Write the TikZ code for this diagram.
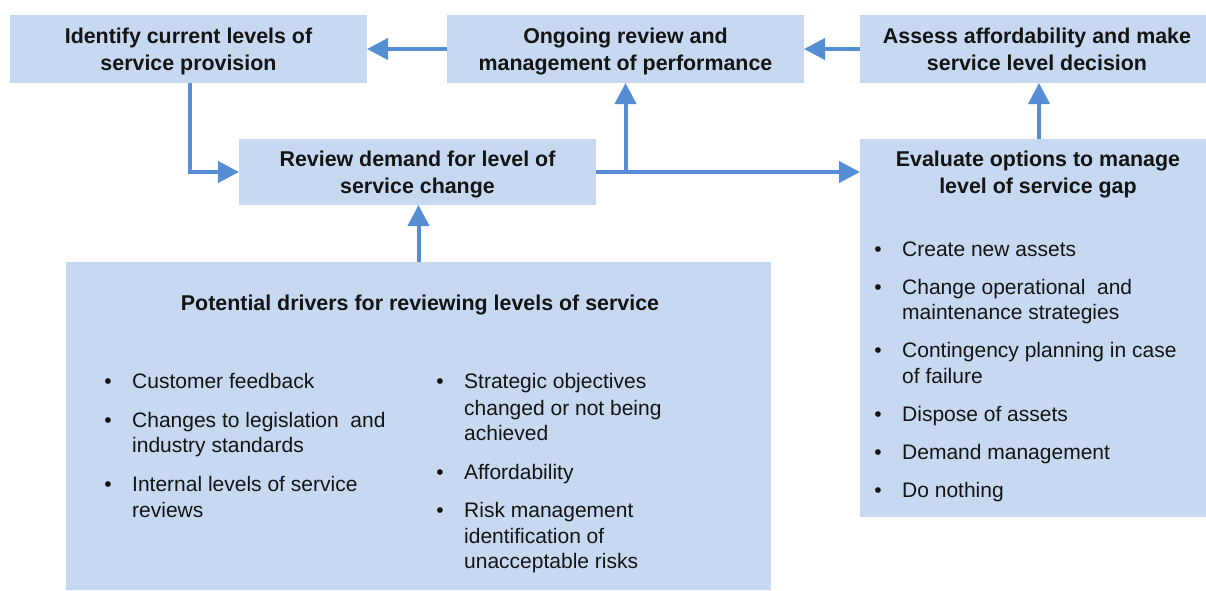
\documentclass[tikz,border=0pt]{standalone}
\usepackage{fontspec}
\setmainfont{Liberation Sans}
\usetikzlibrary{arrows.meta}
\definecolor{boxblue}{RGB}{198,217,240}
\definecolor{arrblue}{RGB}{85,142,213}
\definecolor{txt}{RGB}{20,20,20}
\begin{document}
\begin{tikzpicture}[x=1pt,y=-1pt,
  box/.style={rectangle, fill=boxblue, draw=none, inner sep=0pt, outer sep=0pt},
  ttlline/.style={font=\fontsize{21.4}{27}\selectfont\bfseries, anchor=base, inner sep=0pt, text=txt},
  itm/.style={font=\fontsize{21}{25.5}\selectfont, anchor=base west, inner sep=0pt, text=txt},
  bul/.style={font=\fontsize{21}{25.5}\selectfont, anchor=base, inner sep=0pt, text=txt},
  arr/.style={draw=arrblue, line width=4pt, -{Triangle[length=21pt,width=21pt]}}
]
\useasboundingbox (0,0) rectangle (1206,590);

% boxes
\node[box, minimum width=357pt, minimum height=68pt] (A) at (188.5,49) {};
\node[box, minimum width=357pt, minimum height=68pt] (B) at (625.5,49) {};
\node[box, minimum width=346pt, minimum height=68pt] (C) at (1033,49) {};
\node[box, minimum width=357pt, minimum height=66pt] (D) at (417.5,172) {};
\node[box, minimum width=346pt, minimum height=378pt] (E) at (1033,328) {};
\node[box, minimum width=705pt, minimum height=328pt] (F) at (418.5,426) {};

% titles
\node[ttlline] (a1) at (188.5,43) {Identify current levels of};
\node[ttlline] (a2) at (188.5,70) {service provision};
\node[ttlline] (b1) at (625.5,43) {Ongoing review and};
\node[ttlline] (b2) at (625.5,70) {management of performance};
\node[ttlline] (c1) at (1037,43) {Assess affordability and make};
\node[ttlline] (c2) at (1037,70) {service level decision};
\node[ttlline] (d1) at (417.5,166) {Review demand for level of};
\node[ttlline] (d2) at (417.5,193) {service change};

% box E content
\node[ttlline] (et1) at (1038,166) {Evaluate options to manage};
\node[ttlline] (et2) at (1038,193) {level of service gap};
\foreach \y/\n in {256/1,294/2,357/3,421/4,459/5,497/6} \node[bul] (eb\n) at (878,\y) {•};
\node[itm] (e1) at (902,256) {Create new assets};
\node[itm] (e2) at (902,294) {Change operational \ and};
\node[itm] (e3) at (902,319) {maintenance strategies};
\node[itm] (e4) at (902,357) {Contingency planning in case};
\node[itm] (e5) at (902,383) {of failure};
\node[itm] (e6) at (902,421) {Dispose of assets};
\node[itm] (e7) at (902,459) {Demand management};
\node[itm] (e8) at (902,497) {Do nothing};

% box F content
\node[ttlline] (ft) at (420,310) {Potential drivers for reviewing levels of service};
\foreach \y/\n in {388/1,427/2,491/3} \node[bul] (flb\n) at (108,\y) {•};
\node[itm] (fl1) at (132,388) {Customer feedback};
\node[itm] (fl2) at (132,427) {Changes to legislation \ and};
\node[itm] (fl3) at (132,452) {industry standards};
\node[itm] (fl4) at (132,491) {Internal levels of service};
\node[itm] (fl5) at (132,517) {reviews};
\foreach \y/\n in {388/1,479/2,517/3} \node[bul] (frb\n) at (440,\y) {•};
\node[itm] (fr1) at (464,388) {Strategic objectives};
\node[itm] (fr2) at (464,415) {changed or not being};
\node[itm] (fr3) at (464,440) {achieved};
\node[itm] (fr4) at (464,479) {Affordability};
\node[itm] (fr5) at (464,517) {Risk management};
\node[itm] (fr6) at (464,543) {identification of};
\node[itm] (fr7) at (464,568) {unacceptable risks};

% connectors
\draw[arr] (B.west) -- (A.east);
\draw[arr] (C.west) -- (B.east);
\draw[arr] ([xshift=1.5pt]A.south) |- (D.west);
\draw[arr] (D.east) -- (D.east -| E.west);
\draw[arr] (D.east -| B.south) -- (B.south);
\draw[arr] ([xshift=6pt]E.north) -- ([xshift=6pt]C.south);
\draw[arr] (F.north) -- (F.north |- D.south);
\end{tikzpicture}
\end{document}
